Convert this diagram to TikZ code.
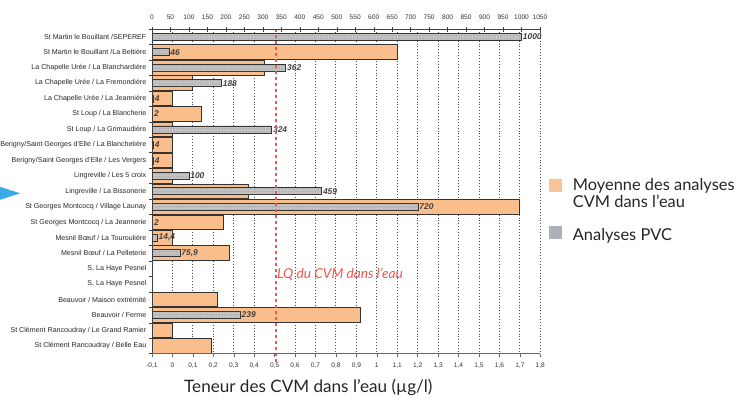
\documentclass[tikz,border=0pt]{standalone}
\usepackage{fontspec}
\setmainfont{Liberation Sans}
\newfontfamily\lato{Lato}
\usepackage{xcolor}
\usepackage{tikz}
\usetikzlibrary{arrows.meta,shapes,positioning,calc,patterns}
\definecolor{cvmorange}{RGB}{250,190,140}
\definecolor{pvcgrey}{RGB}{196,196,196}
\definecolor{lqred}{RGB}{240,85,75}
\definecolor{legorange}{RGB}{250,196,150}
\definecolor{leggrey}{RGB}{172,178,184}
\definecolor{markblue}{RGB}{60,170,230}

% value -> position
\newcommand{\cvmx}[1]{172.4+204.4*(#1)}
\newcommand{\pvcx}[1]{152+0.3695*(#1)}
\newcommand{\rowy}[1]{29+15.46*((#1)-0.5)}

\tikzset{
    rowlabel/.style={anchor=east, inner sep=0pt, text=black!85, font=\fontsize{7.1}{8}\selectfont},
    ticklabel/.style={anchor=base, inner sep=0pt, text=black!80, font=\fontsize{6.6}{7}\selectfont},
    vallabel/.style={anchor=west, inner sep=1.2pt, text=black!75, font=\fontsize{8.4}{9}\selectfont\bfseries\itshape},
    cvmbar/.style={draw=black!80, line width=0.9pt, fill=cvmorange},
    pvcbar/.style={draw=black!80, line width=0.8pt, fill=pvcgrey, postaction={pattern=dots, pattern color=black!60}},
    legtext/.style={anchor=base west, inner sep=0pt, text=black!85, font=\lato\fontsize{16.4}{17}\selectfont},
    legbox/.style={minimum width=13pt, minimum height=12.5pt, inner sep=0pt}
}

\begin{document}
\begin{tikzpicture}[x=1pt,y=-1pt]
\useasboundingbox (0,0) rectangle (753,399);

% Grid
\foreach \k in {0,...,4,6,7,...,18} {
    \draw[black!70, dotted, line width=0.9pt] ({\cvmx{\k/10}},29) -- ({\cvmx{\k/10}},353.7);
}

% Moyenne des analyses CVM (orange)
\foreach \i/\v in {2/1.1, 3/0.45, 4/0.1, 5/0, 6/0.14, 7/0, 8/0, 9/0, 10/0, 11/0.37,
                   12/1.7, 13/0.25, 14/0, 15/0.28, 18/0.22, 19/0.92, 20/0, 21/0.19} {
    \draw[cvmbar] (152,{\rowy{\i}-7.3}) rectangle ({\cvmx{\v}},{\rowy{\i}+7.3});
}

% Analyses PVC (grey)
\foreach \i/\n/\t in {1/1000/1000, 2/46/46, 3/362/362, 4/188/188, 5/4/4, 6/2/2, 7/324/324,
                      8/4/4, 9/4/4, 10/100/100, 11/459/459, 12/720/720, 13/2/2,
                      14/14.4/{14,4}, 15/75.9/{75,9}, 19/239/239} {
    \draw[pvcbar] (152,{\rowy{\i}-3.5}) rectangle ({\pvcx{\n}},{\rowy{\i}+3.5});
    \node[vallabel] (v\i) at ({\pvcx{\n}},{\rowy{\i}}) {\t};
}

% LQ line
\draw[lqred, dashed, line width=1.1pt] (276,29) -- (276,363);
\node[anchor=west, inner sep=0pt, text=lqred, font=\lato\itshape\fontsize{13.7}{14}\selectfont] (lq) at (277,274) {LQ du CVM dans l’eau};

% Axes
\draw[black!75, line width=0.9pt] (152,29) -- (540,29);
\draw[black!75, line width=0.9pt] (152,29) -- (152,353.7);
\draw[black!60, line width=0.9pt] (152,353.7) -- (540,353.7);
\foreach \n in {0,50,...,1050} {
    \draw[black!75] ({\pvcx{\n}},26.5) -- ({\pvcx{\n}},31.5);
    \node[ticklabel] (t\n) at ({\pvcx{\n}},19.5) {\n};
}
\foreach \i in {0,...,21} {
    \draw[black!75] (149,{29+15.46*\i}) -- (152,{29+15.46*\i});
}
\foreach \v/\t [count=\c] in {-0.1/{-0,1}, 0/0, 0.1/{0,1}, 0.2/{0,2}, 0.3/{0,3}, 0.4/{0,4},
                               0.5/{0,5}, 0.6/{0,6}, 0.7/{0,7}, 0.8/{0,8}, 0.9/{0,9}, 1/1,
                               1.1/{1,1}, 1.2/{1,2}, 1.3/{1,3}, 1.4/{1,4}, 1.5/{1,5}, 1.6/{1,6},
                               1.7/{1,7}, 1.8/{1,8}} {
    \draw[black!60] ({\cvmx{\v}},353.7) -- ({\cvmx{\v}},356.5);
    \node[ticklabel] (b\c) at ({\cvmx{\v}},367.5) {\t};
}

% Row labels
\foreach \i/\lab in {1/{St Martin le Bouillant /SEPEREF},
                     2/{St Martin le Bouillant /La Beltière},
                     3/{La Chapelle Urée / La Blanchardière},
                     4/{La Chapelle Urée / La Fremondière},
                     5/{La Chapelle Urée / La Jeannière},
                     6/{St Loup / La Blancherie},
                     7/{St Loup / La Grimaudière},
                     8/{Berigny/Saint Georges d'Elle / La Blanchetière},
                     9/{Berigny/Saint Georges d'Elle / Les Vergers},
                     10/{Lingreville / Les 5 croix},
                     11/{Lingreville / La Bissonerie},
                     12/{St Georges Montcocq / Village Launay},
                     13/{St Georges Montcocq / La Jeannerie},
                     14/{Mesnil Bœuf / La Touroulière},
                     15/{Mesnil Bœuf / La Pelleterie},
                     16/{S, La Haye Pesnel},
                     17/{S, La Haye Pesnel},
                     18/{Beauvoir / Maison extrémité},
                     19/{Beauvoir / Ferme},
                     20/{St Clément Rancoudray / Le Grand Ramier},
                     21/{St Clément Rancoudray / Belle Eau}} {
    \node[rowlabel] (r\i) at (146.5,{\rowy{\i}}) {\lab};
}

% Axis title
\node[legtext, font=\lato\fontsize{17.1}{18}\selectfont] (xtitle) at (184,392) {Teneur des CVM dans l’eau (µg/l)};

% Legend
\node[legbox, fill=legorange] (kcvm) at (555,185.5) {};
\node[legtext] (tcvm) at (572.7,190.7) {Moyenne des analyses};
\node[legtext] (tcvm2) at (572.7,207.5) {CVM dans l’eau};
\node[legbox, fill=leggrey] (kpvc) at (555,232.7) {};
\node[legtext] (tpvc) at (572.7,240) {Analyses PVC};

% Marker
\fill[markblue] (0,186.7) -- (20,193.3) -- (0,199.8) -- cycle;
\end{tikzpicture}
\end{document}
